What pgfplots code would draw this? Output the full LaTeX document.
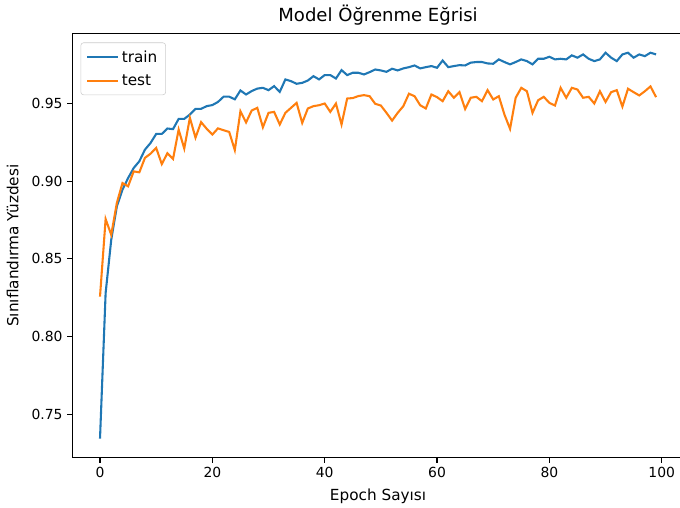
\documentclass[border=0pt]{standalone}
\usepackage{pgfplots}
\pgfplotsset{compat=1.18}
\usepackage{fontspec}
\setmainfont{DejaVu Sans}
\definecolor{mplblue}{HTML}{1F77B4}
\definecolor{mplorange}{HTML}{FF7F0E}

\begin{document}
\begin{tikzpicture}
\begin{axis}[
    scale only axis,
    width=440.5pt, height=305.6pt,
    xmin=-4.95, xmax=103.95,
    ymin=0.7219, ymax=0.9951,
    xtick={0,20,40,60,80,100},
    ytick={0.75,0.80,0.85,0.90,0.95},
    yticklabel style={/pgf/number format/.cd, fixed, fixed zerofill, precision=2},
    /pgf/number format/assume math mode=true,
    tick align=outside,
    tick pos=left,
    major tick length=3.5pt,
    every tick/.style={black, line width=0.8pt},
    axis line style={line width=0.8pt},
    tick label style={font=\fontsize{10}{12}\selectfont},
    title style={font=\fontsize{13}{16}\selectfont, at={(axis description cs:0.5,1.0075)}, anchor=base, yshift=0pt},
    title={Model Öğrenme Eğrisi},
    every axis x label/.style={font=\fontsize{11}{13}\selectfont, at={(axis description cs:0.5,-0.0998)}, anchor=base},
    every axis y label/.style={font=\fontsize{11}{13}\selectfont, at={(axis description cs:-0.088,0.5)}, rotate=90, anchor=base},
    xlabel={Epoch Sayısı},
    ylabel={Sınıflandırma Yüzdesi},
    legend style={at={(0,1)}, anchor=north west, xshift=6pt, yshift=-6.5pt,
        draw=black!20, rounded corners=2pt, fill=white, fill opacity=0.8, text opacity=1,
        font=\fontsize{11}{13}\selectfont, row sep=3.4pt, inner xsep=4pt, inner ysep=3.5pt,
        every even column/.style={column sep=6pt}},
    legend cell align=left,
    legend image code/.code={\draw[#1] (0pt,0pt) -- (22pt,0pt);},
]
\addplot[mplblue, line width=1.5pt] coordinates {
(0,0.7343) (1,0.828) (2,0.8623) (3,0.8838) (4,0.8945) (5,0.902) (6,0.9085) (7,0.9128) (8,0.9203) (9,0.9246)
(10,0.9304) (11,0.9304) (12,0.9339) (13,0.9335) (14,0.9401) (15,0.9401) (16,0.9429) (17,0.9466) (18,0.9466) (19,0.9483)
(20,0.949) (21,0.951) (22,0.9544) (23,0.9544) (24,0.9527) (25,0.9584) (26,0.9558) (27,0.958) (28,0.9596) (29,0.9601)
(30,0.9586) (31,0.9612) (32,0.9575) (33,0.9655) (34,0.9644) (35,0.9627) (36,0.9633) (37,0.9648) (38,0.9676) (39,0.9655)
(40,0.9683) (41,0.9683) (42,0.9661) (43,0.9715) (44,0.9683) (45,0.9698) (46,0.9698) (47,0.9687) (48,0.9702) (49,0.9719)
(50,0.9713) (51,0.9704) (52,0.9724) (53,0.9713) (54,0.9726) (55,0.9734) (56,0.9745) (57,0.9726) (58,0.9734) (59,0.9741)
(60,0.973) (61,0.9777) (62,0.9734) (63,0.9741) (64,0.9747) (65,0.9745) (66,0.9763) (67,0.9767) (68,0.9767) (69,0.9758)
(70,0.9756) (71,0.9784) (72,0.9767) (73,0.9752) (74,0.9767) (75,0.9784) (76,0.9773) (77,0.9752) (78,0.9788) (79,0.9788)
(80,0.9801) (81,0.9784) (82,0.9788) (83,0.9784) (84,0.981) (85,0.9795) (86,0.9816) (87,0.9788) (88,0.9773) (89,0.9784)
(90,0.9827) (91,0.9795) (92,0.9773) (93,0.9816) (94,0.9827) (95,0.9795) (96,0.9816) (97,0.9805) (98,0.9827) (99,0.9816)
};
\addlegendentry{train}
\addplot[mplorange, line width=1.5pt] coordinates {
(0,0.8257) (1,0.8756) (2,0.8655) (3,0.886) (4,0.8988) (5,0.8967) (6,0.9063) (7,0.9057) (8,0.915) (9,0.9177)
(10,0.9214) (11,0.911) (12,0.918) (13,0.9143) (14,0.9332) (15,0.921) (16,0.9408) (17,0.928) (18,0.938) (19,0.9337)
(20,0.93) (21,0.934) (22,0.9328) (23,0.9317) (24,0.92) (25,0.945) (26,0.9378) (27,0.9455) (28,0.9472) (29,0.9347)
(30,0.944) (31,0.9446) (32,0.9365) (33,0.944) (34,0.9472) (35,0.9504) (36,0.9375) (37,0.9468) (38,0.9483) (39,0.9489)
(40,0.95) (41,0.9446) (42,0.95) (43,0.9365) (44,0.9532) (45,0.9535) (46,0.9548) (47,0.9554) (48,0.9547) (49,0.9498)
(50,0.9487) (51,0.944) (52,0.939) (53,0.944) (54,0.9483) (55,0.9563) (56,0.9547) (57,0.9489) (58,0.9468) (59,0.9558)
(60,0.9541) (61,0.9515) (62,0.9579) (63,0.9537) (64,0.9573) (65,0.9465) (66,0.9537) (67,0.9543) (68,0.9515) (69,0.9586)
(70,0.9526) (71,0.9547) (72,0.9429) (73,0.9337) (74,0.9537) (75,0.9601) (76,0.9579) (77,0.944) (78,0.9521) (79,0.9543)
(80,0.9504) (81,0.9487) (82,0.9601) (83,0.9537) (84,0.9601) (85,0.959) (86,0.9537) (87,0.9543) (88,0.95) (89,0.9579)
(90,0.951) (91,0.9573) (92,0.9586) (93,0.948) (94,0.9595) (95,0.9573) (96,0.9552) (97,0.9579) (98,0.961) (99,0.9541)
};
\addlegendentry{test}
\end{axis}
\pgfresetboundingbox
\path ([shift={(-52pt,-36pt)}]current axis.south west) rectangle ([shift={(-2.8pt,24.1pt)}]current axis.north east);
\end{tikzpicture}
\end{document}
